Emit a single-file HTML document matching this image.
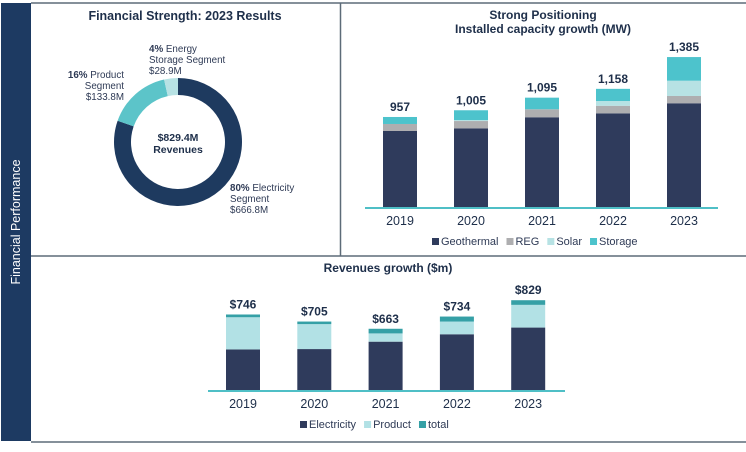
<!DOCTYPE html>
<html><head><meta charset="utf-8"><style>
html,body{margin:0;padding:0;background:#fff;}
body{width:746px;height:447px;overflow:hidden;font-family:"Liberation Sans",sans-serif;}
svg text{font-family:"Liberation Sans",sans-serif;}
</style></head><body>
<svg id="s" width="746" height="447" viewBox="0 0 746 447">
<rect x="1" y="3" width="30" height="438" fill="#1d3a62"/>
<text transform="translate(20,222) rotate(-90)" text-anchor="middle" font-size="12.5" fill="#fff">Financial Performance</text>
<line x1="31" y1="3" x2="746" y2="3" stroke="#5d6b78" stroke-width="1.5"/>
<line x1="31" y1="256" x2="746" y2="256" stroke="#5d6b78" stroke-width="1.5"/>
<line x1="31" y1="442" x2="746" y2="442" stroke="#5d6b78" stroke-width="1.5"/>
<line x1="340.5" y1="3" x2="340.5" y2="256" stroke="#5d6b78" stroke-width="1.5"/>

<text x="185" y="20" text-anchor="middle" font-size="12.5" font-weight="bold" fill="#1e2f4a">Financial Strength: 2023 Results</text>
<g id="donut"></g>
<text x="178" y="141" text-anchor="middle" font-size="10.5" font-weight="bold" fill="#1e2f4a">$829.4M</text>
<text x="178" y="153" text-anchor="middle" font-size="10.5" font-weight="bold" fill="#1e2f4a">Revenues</text>
<g font-size="9.8" fill="#2e3a55">
<text x="149" y="52"><tspan font-weight="bold">4%</tspan> Energy<tspan x="149" dy="11">Storage Segment</tspan><tspan x="149" dy="11">$28.9M</tspan></text>
<text x="124" y="78" text-anchor="end"><tspan font-weight="bold">16%</tspan> Product<tspan x="124" dy="11">Segment</tspan><tspan x="124" dy="11">$133.8M</tspan></text>
<text x="230" y="191"><tspan font-weight="bold">80%</tspan> Electricity<tspan x="230" dy="11">Segment</tspan><tspan x="230" dy="11">$666.8M</tspan></text>
</g>

<text x="543" y="19" text-anchor="middle" font-size="12" font-weight="bold" fill="#1e2f4a">Strong Positioning</text>
<text x="543" y="33" text-anchor="middle" font-size="12" font-weight="bold" fill="#1e2f4a">Installed capacity growth (MW)</text>
<g id="cap"></g>

<text x="388" y="272" text-anchor="middle" font-size="12" font-weight="bold" fill="#1e2f4a">Revenues growth ($m)</text>
<g id="rev"></g>
</svg>
<script>
const donutLabels=["Electricity","Product","Storage"];
const donutValues=[666.8,133.8,28.9];
const capYears=["2019","2020","2021","2022","2023"];
const capGeo=[857,876,955,983,1055];
const capREG=[50,52,57,54,52];
const capSolar=[0,7,0,34,109];
const capStorage=[50,70,83,87,169];
const capTotals=["957","1,005","1,095","1,158","1,385"];
const revYears=["2019","2020","2021","2022","2023"];
const revElec=[543,545,588,631,670];
const revProduct=[187,145,48,74,132];
const revTotal=[16,15,27,29,27];
const revLabels=["$746","$705","$663","$734","$829"];

const NS="http://www.w3.org/2000/svg";
function mk(tag,attrs,parent){const e=document.createElementNS(NS,tag);for(const k in attrs)e.setAttribute(k,attrs[k]);parent.appendChild(e);return e;}

(function(){
  const g=document.getElementById('donut');const cx=178,cy=142,R=64,r=47;
  const cols=["#1e3a5f","#5cc4c9","#b7e2e4"];
  const tot=donutValues.reduce((a,b)=>a+b,0);let a0=0;
  donutValues.forEach((v,i)=>{
    const a1=a0+v/tot*2*Math.PI;
    const p=(a,rad)=>[cx+rad*Math.sin(a),cy-rad*Math.cos(a)];
    const [x1,y1]=p(a0,R),[x2,y2]=p(a1,R),[x3,y3]=p(a1,r),[x4,y4]=p(a0,r);
    const lg=(a1-a0)>Math.PI?1:0;
    const e=mk('path',{d:`M${x1},${y1}A${R},${R} 0 ${lg} 1 ${x2},${y2}L${x3},${y3}A${r},${r} 0 ${lg} 0 ${x4},${y4}Z`,fill:cols[i]},g);
    
    
    a0=a1;
  });
})();

function stacked(gid,years,series,cols,labels,opt){
  const g=document.getElementById(gid);
  const y=v=>opt.base-(v-opt.min)*opt.k;
  const x=i=>opt.x0+i*opt.step;
  years.forEach((yr,i)=>{
    let cum=0;
    series.forEach((s,j)=>{
      const v=s[i];const lo=cum;cum+=v;
      if(v<=0)return;
      const yt=y(cum),yb=y(j===0?opt.min:lo);
      const e=mk('rect',{x:x(i)-opt.w/2,y:yt,width:opt.w,height:Math.max(0,yb-yt),fill:cols[j]},g);
      
      
    });
    const t=mk('text',{x:x(i),y:y(cum)-6,'text-anchor':'middle','font-size':'12','font-weight':'bold',fill:'#1e2f4a'},g);
    t.textContent=labels[i];
    
    
    const xl=mk('text',{x:x(i),y:opt.base+18,'text-anchor':'middle','font-size':'12.5',fill:'#1e2f4a'},g);
    xl.textContent=yr;
    
    
  });
  const ax=mk('line',{x1:opt.ax0,x2:opt.ax1,y1:opt.base+1,y2:opt.base+1,stroke:'#4fbfc6','stroke-width':2},g);
  
  
  let lx=opt.lx;
  opt.names.forEach((n,j)=>{
    const r=mk('rect',{x:lx,y:opt.ly-7,width:7,height:7,fill:cols[j]},g);
    
    
    const t=mk('text',{x:lx+9,y:opt.ly,'font-size':'11',fill:'#2e3a55'},g);
    t.textContent=n;
    
    
    lx+=9+t.getComputedTextLength()+8;
  });
}
stacked('cap',capYears,[capGeo,capREG,capSolar,capStorage],["#2f3b5c","#aeaeb0","#b7e2e4","#4dc3cc"],capTotals,
  {base:207,min:314,k:0.14,x0:400,step:71,w:34,ax0:365,ax1:718,lx:432,ly:245,names:["Geothermal","REG","Solar","Storage"]});
stacked('rev',revYears,[revElec,revProduct,revTotal],["#2f3b5c","#b2e1e5","#35a0a6"],revLabels,
  {base:390,min:307,k:0.172,x0:243,step:71.3,w:34,ax0:208,ax1:565,lx:300,ly:428,names:["Electricity","Product","total"]});
</script>
</body></html>
